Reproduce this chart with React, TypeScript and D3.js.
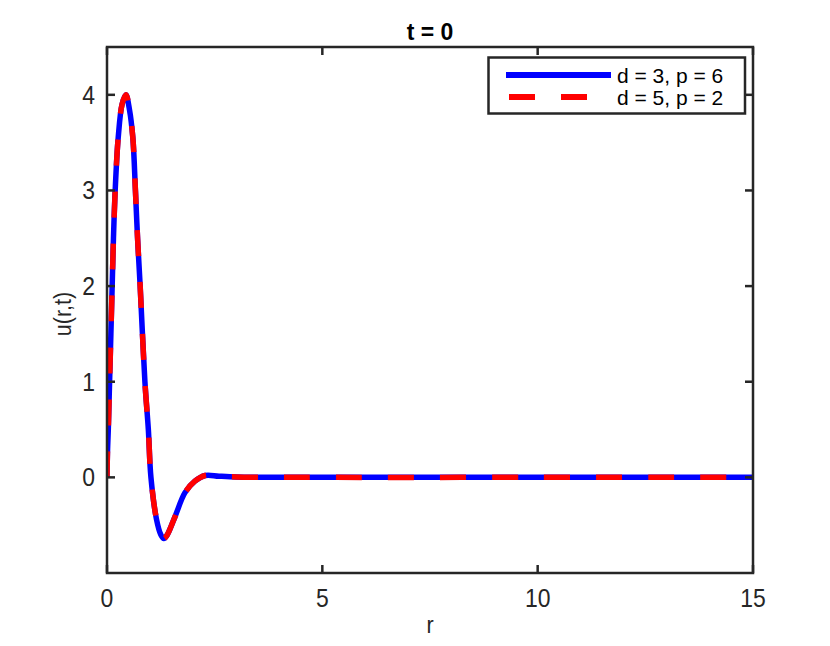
import { useEffect, useRef } from 'react';
import * as d3 from 'd3';

// values (both runs overlap exactly at t = 0)
const rValues = [0, 0.01, 0.03, 0.06, 0.12, 0.15, 0.19, 0.26, 0.35, 0.44, 0.52, 0.6, 0.66, 0.71, 0.77, 0.88, 0.96, 1.02, 1.15, 1.25, 1.32, 1.4, 1.58, 1.81, 2.04, 2.28, 2.6, 3.0, 3.5, 5, 10, 15];
const uSeriesA = [0, 0.25, 0.5, 1.0, 2.0, 2.5, 3.0, 3.55, 3.9, 4.0, 3.85, 3.55, 3.0, 2.5, 2.0, 1.0, 0.5, 0, -0.44, -0.6, -0.64, -0.6, -0.41, -0.16, -0.04, 0.02, 0.012, 0.004, 0.001, 0, 0, 0];
const uSeriesB = [0, 0.25, 0.5, 1.0, 2.0, 2.5, 3.0, 3.55, 3.9, 4.0, 3.85, 3.55, 3.0, 2.5, 2.0, 1.0, 0.5, 0, -0.44, -0.6, -0.64, -0.6, -0.41, -0.16, -0.04, 0.02, 0.012, 0.004, 0.001, 0, 0, 0];
const seriesLabels = ['d = 3, p = 6', 'd = 5, p = 2'];
const xTicks = [0, 5, 10, 15];
const yTicks = [0, 1, 2, 3, 4];

export default function App() {
  const ref = useRef<SVGSVGElement>(null);

  useEffect(() => {
    const svg = d3.select(ref.current);
    svg.selectAll('*').remove();

    const left = 107, right = 753, top = 47, bottom = 573;
    const axisColor = '#262626';
    const font = '"Liberation Sans", Arial, Helvetica, sans-serif';

    const x = d3.scaleLinear().domain([0, 15]).range([left, right]);
    const y = d3.scaleLinear().domain([-1, 4.5]).range([bottom, top]);

    svg.append('rect').attr('width', 830).attr('height', 646).attr('fill', '#fff');

    const clip = svg.append('defs').append('clipPath').attr('id', 'plotclip');
    clip.append('rect').attr('x', left).attr('y', top).attr('width', right - left).attr('height', bottom - top);

    const line = d3.line<number>()
      .x((_, i) => x(rValues[i]))
      .y(d => y(d))
      .curve(d3.curveCatmullRom.alpha(0.5));

    const plot = svg.append('g').attr('clip-path', 'url(#plotclip)');
    plot.append('path')
      .attr('d', line(uSeriesA))
      .attr('fill', 'none')
      .attr('stroke', '#0000ff')
      .attr('stroke-width', 5.5)
      .attr('stroke-linejoin', 'round');
    plot.append('path')
      .attr('d', line(uSeriesB))
      .attr('fill', 'none')
      .attr('stroke', '#ff0000')
      .attr('stroke-width', 5.5)
      .attr('stroke-dasharray', '26,26');

    // axes box
    svg.append('rect')
      .attr('x', left).attr('y', top)
      .attr('width', right - left).attr('height', bottom - top)
      .attr('fill', 'none').attr('stroke', axisColor).attr('stroke-width', 2.5);

    const tickLen = 8;
    const label = (tx: number, ty: number, txt: string, anchor: string, size: number) =>
      svg.append('text')
        .attr('transform', `translate(${tx},${ty}) scale(0.9,1)`)
        .attr('text-anchor', anchor).attr('font-family', font).attr('font-size', size)
        .attr('fill', axisColor).text(txt);

    xTicks.forEach(t => {
      svg.append('line').attr('x1', x(t)).attr('x2', x(t)).attr('y1', bottom).attr('y2', bottom - tickLen)
        .attr('stroke', axisColor).attr('stroke-width', 2.5);
      svg.append('line').attr('x1', x(t)).attr('x2', x(t)).attr('y1', top).attr('y2', top + tickLen)
        .attr('stroke', axisColor).attr('stroke-width', 2.5);
      label(x(t), 606.5, String(t), 'middle', 25.5);
    });
    yTicks.forEach(t => {
      svg.append('line').attr('x1', left).attr('x2', left + tickLen).attr('y1', y(t)).attr('y2', y(t))
        .attr('stroke', axisColor).attr('stroke-width', 2.5);
      svg.append('line').attr('x1', right).attr('x2', right - tickLen).attr('y1', y(t)).attr('y2', y(t))
        .attr('stroke', axisColor).attr('stroke-width', 2.5);
      label(95, y(t) + 9, String(t), 'end', 25.5);
    });

    label((left + right) / 2, 633, 'r', 'middle', 24);
    svg.append('text')
      .attr('transform', `translate(71,${(top + bottom) / 2 + 4}) rotate(-90) scale(0.9,1)`)
      .attr('text-anchor', 'middle').attr('font-family', font).attr('font-size', 24)
      .attr('fill', axisColor).text('u(r,t)');
    svg.append('text').attr('x', (left + right) / 2).attr('y', 40)
      .attr('text-anchor', 'middle').attr('font-family', font).attr('font-size', 23)
      .attr('font-weight', 'bold').attr('fill', '#000').text('t = 0');

    // legend
    const lg = svg.append('g');
    lg.append('rect').attr('x', 488.5).attr('y', 57.5).attr('width', 256.5).attr('height', 56)
      .attr('fill', '#fff').attr('stroke', axisColor).attr('stroke-width', 2.5);
    const rows = [
      { y: 75, color: '#0000ff', dash: null },
      { y: 97, color: '#ff0000', dash: '26,26' },
    ];
    rows.forEach((row, i) => {
      const l = lg.append('line').attr('x1', i === 0 ? 506 : 509).attr('x2', 611)
        .attr('y1', row.y).attr('y2', row.y)
        .attr('stroke', row.color).attr('stroke-width', 6);
      if (row.dash) l.attr('stroke-dasharray', row.dash);
      lg.append('text').attr('x', 617).attr('y', row.y + 8)
        .attr('font-family', font).attr('font-size', 21).attr('fill', '#000')
        .text(seriesLabels[i]);
    });
  }, []);

  return <svg ref={ref} width={830} height={646} style={{ display: 'block', margin: '-8px' }} />;
}
